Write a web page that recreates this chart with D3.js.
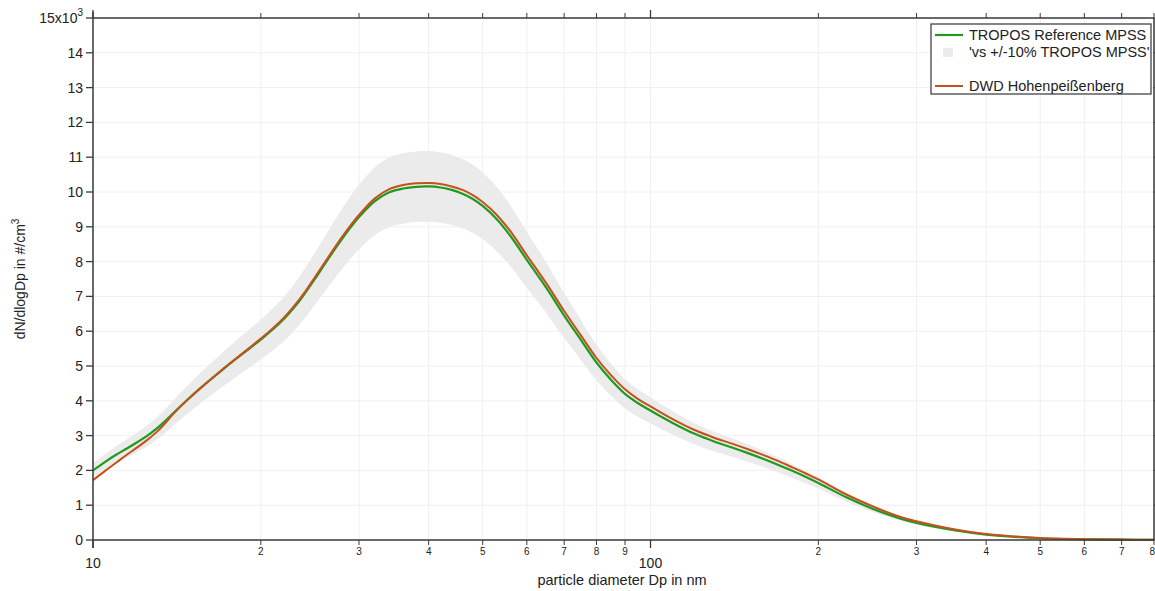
<!DOCTYPE html>
<html><head><meta charset="utf-8">
<script src="https://cdn.jsdelivr.net/npm/d3@7/dist/d3.min.js"></script>
<style>
body{margin:0;background:#fff;}
text{font-family:"Liberation Sans",Arial,sans-serif;fill:#222;}
</style></head>
<body><svg id="chart" width="1155" height="591"></svg>
<script>
// ---- data ----
const diameters = [10,10.5,11,11.5,12,12.5,13,13.5,14,15,16,17,18,19,20,21,22,23,24,25,26,27,28,29,30,32,34,36,38,40,42,44,46,48,50,53,56,60,65,70,75,80,85,90,95,100,110,120,130,140,150,160,170,180,190,200,225,250,280,300,350,400,450,500,600,700,800];
const troposValues = [2.0,2.24,2.45,2.63,2.81,2.99,3.2,3.43,3.68,4.13,4.52,4.87,5.19,5.48,5.76,6.05,6.35,6.70,7.09,7.50,7.91,8.30,8.66,8.99,9.28,9.73,9.99,10.10,10.15,10.16,10.13,10.06,9.95,9.80,9.60,9.22,8.75,8.05,7.25,6.45,5.75,5.10,4.60,4.20,3.93,3.72,3.35,3.05,2.83,2.66,2.49,2.32,2.15,1.98,1.81,1.64,1.22,0.90,0.62,0.49,0.28,0.155,0.09,0.05,0.02,0.01,0.005];
const dwdValues = [1.72,1.98,2.22,2.45,2.66,2.87,3.1,3.37,3.66,4.12,4.52,4.88,5.2,5.5,5.79,6.08,6.39,6.74,7.13,7.55,7.96,8.35,8.72,9.05,9.34,9.81,10.08,10.2,10.25,10.26,10.23,10.16,10.06,9.91,9.71,9.34,8.88,8.18,7.38,6.58,5.88,5.23,4.73,4.33,4.05,3.84,3.46,3.16,2.94,2.77,2.6,2.43,2.26,2.08,1.91,1.74,1.3,0.97,0.67,0.54,0.31,0.17,0.1,0.055,0.022,0.011,0.005];
const bandFraction = 0.10; // legend: +/-10% of TROPOS MPSS
const yTicks = [0,1,2,3,4,5,6,7,8,9,10,11,12,13,14,15];
const xMajorTicks = [10,100];
const xMinorTicks = [20,30,40,50,60,70,80,90,200,300,400,500,600,700,800];
const seriesNames = ["TROPOS Reference MPSS","'vs +/-10% TROPOS MPSS'","DWD Hohenpeißenberg"];
const xTitle = "particle diameter Dp in nm";

(function(){
const svg = d3.select("#chart");
const L = 93, R = 1154, T = 18, B = 540;
const x = d3.scaleLog().domain([10,800]).range([L,R]);
const y = d3.scaleLinear().domain([0,15]).range([B,T]);
const green = "#1f9a1f", orange = "#c4511c", bandColor = "#ebebeb", axisColor = "#3a3a3a";
const curve = d3.curveCatmullRom.alpha(0.5);

// grid
const grid = svg.append("g").attr("stroke","#f0f0f0").attr("stroke-width",1);
xMajorTicks.concat(xMinorTicks).forEach(v=>{
  grid.append("line").attr("x1",x(v)).attr("x2",x(v)).attr("y1",T).attr("y2",B);
});
yTicks.forEach(v=>{
  grid.append("line").attr("x1",L).attr("x2",R).attr("y1",y(v)).attr("y2",y(v));
});

// band
const pts = diameters.map((d,i)=>({d, g:troposValues[i], o:dwdValues[i]}));
svg.append("path").datum(pts)
  .attr("fill",bandColor)
  .attr("d", d3.area().curve(curve)
    .x(p=>x(p.d)).y0(p=>y(p.g*(1-bandFraction))).y1(p=>y(p.g*(1+bandFraction))));

// lines
const lineG = d3.line().curve(curve).x(p=>x(p.d)).y(p=>y(p.g));
const lineO = d3.line().curve(curve).x(p=>x(p.d)).y(p=>y(p.o));
svg.append("path").datum(pts).attr("fill","none").attr("stroke",green).attr("stroke-width",2.2).attr("d",lineG);
svg.append("path").datum(pts).attr("fill","none").attr("stroke",orange).attr("stroke-width",2).attr("d",lineO);

// axes
const fmtX = v => (v===10||v===100) ? String(v) : String(v).replace(/0+$/,"");
const gBottom = svg.append("g").attr("transform",`translate(0,${B})`);
gBottom.append("line").attr("x1",L).attr("x2",R).attr("stroke",axisColor).attr("stroke-width",1.5);
xMajorTicks.forEach(v=>{
  gBottom.append("line").attr("x1",x(v)).attr("x2",x(v)).attr("y1",0).attr("y2",8).attr("stroke",axisColor).attr("stroke-width",1.3);
  gBottom.append("text").attr("x",x(v)).attr("y",28).attr("text-anchor","middle").attr("font-size",14).text(fmtX(v));
});
xMinorTicks.forEach((v,i)=>{
  gBottom.append("line").attr("x1",x(v)).attr("x2",x(v)).attr("y1",0).attr("y2",5).attr("stroke",axisColor).attr("stroke-width",1);
  const last = i===xMinorTicks.length-1;
  gBottom.append("text").attr("x",last ? x(v)+1 : x(v)).attr("y",15)
    .attr("text-anchor",last ? "end" : "middle").attr("font-size",10).text(fmtX(v));
});
gBottom.append("text").attr("x",622).attr("y",45).attr("text-anchor","middle").attr("font-size",14.5).text(xTitle);

const gTop = svg.append("g").attr("transform",`translate(0,${T})`);
gTop.append("line").attr("x1",L).attr("x2",R).attr("stroke",axisColor).attr("stroke-width",1.5);
xMajorTicks.forEach(v=>gTop.append("line").attr("x1",x(v)).attr("x2",x(v)).attr("y1",0).attr("y2",-8).attr("stroke",axisColor).attr("stroke-width",1.3));
xMinorTicks.forEach(v=>gTop.append("line").attr("x1",x(v)).attr("x2",x(v)).attr("y1",0).attr("y2",-5).attr("stroke",axisColor).attr("stroke-width",1));

const gLeft = svg.append("g");
gLeft.append("line").attr("x1",L).attr("x2",L).attr("y1",T-6).attr("y2",B+8).attr("stroke",axisColor).attr("stroke-width",1.5);
yTicks.forEach(v=>{
  gLeft.append("line").attr("x1",L-7).attr("x2",L).attr("y1",y(v)).attr("y2",y(v)).attr("stroke",axisColor).attr("stroke-width",1.3);
  if(v===15){
    const t = gLeft.append("text").attr("x",L-10).attr("y",y(v)+5).attr("text-anchor","end").attr("font-size",14);
    t.append("tspan").text("15x10");
    t.append("tspan").attr("dy",-7).attr("font-size",10).text("3");
  } else {
    gLeft.append("text").attr("x",L-10).attr("y",y(v)+5).attr("text-anchor","end").attr("font-size",14).text(v);
  }
});
const yt = gLeft.append("text").attr("transform",`translate(25,${(T+B)/2}) rotate(-90)`).attr("text-anchor","middle").attr("font-size",14);
yt.append("tspan").text("dN/dlogDp in #/cm");
yt.append("tspan").attr("dy",-6).attr("font-size",10).text("3");

const gRight = svg.append("g");
gRight.append("line").attr("x1",R).attr("x2",R).attr("y1",T).attr("y2",B).attr("stroke",axisColor).attr("stroke-width",1.5);
yTicks.forEach(v=>gRight.append("line").attr("x1",R).attr("x2",R+5).attr("y1",y(v)).attr("y2",y(v)).attr("stroke",axisColor).attr("stroke-width",1.2));

// legend
const lg = svg.append("g").attr("transform","translate(931,24)");
lg.append("rect").attr("width",220).attr("height",70).attr("fill","#fff").attr("stroke","#444").attr("stroke-width",1.3);
lg.append("line").attr("x1",4).attr("x2",32).attr("y1",11).attr("y2",11).attr("stroke",green).attr("stroke-width",2.2);
lg.append("text").attr("x",38).attr("y",16).attr("font-size",14.5).text(seriesNames[0]);
lg.append("rect").attr("x",12).attr("y",24).attr("width",10).attr("height",9).attr("fill",bandColor);
lg.append("text").attr("x",38).attr("y",33).attr("font-size",14.5).text(seriesNames[1]);
lg.append("line").attr("x1",4).attr("x2",32).attr("y1",62).attr("y2",62).attr("stroke",orange).attr("stroke-width",2);
lg.append("text").attr("x",38).attr("y",67).attr("font-size",14.5).text(seriesNames[2]);
})();
</script></body></html>
